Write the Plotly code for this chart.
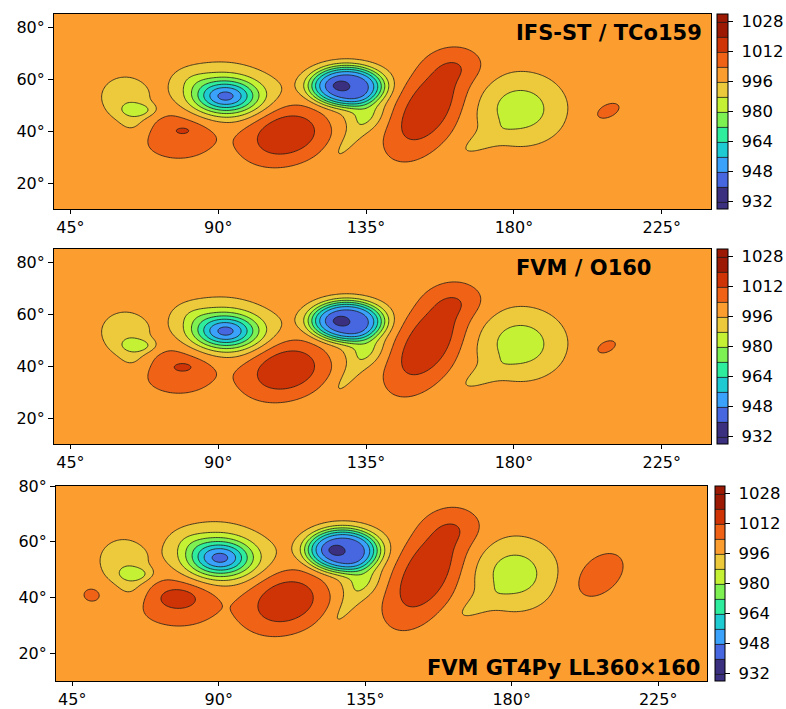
import numpy as np
import plotly.graph_objects as go

# ---------------- data -----------------
LEVEL_START, LEVEL_END, LEVEL_STEP = 932, 1028, 8
BAND_COLORS = ["#3b2f80", "#4667e0", "#3aa2fb", "#1ecbd3", "#2eed9c", "#7ef152",
               "#c4f133", "#edca3b", "#fc9d30", "#f06317", "#cf3406", "#9c1a04"]
CBAR_TICKS = [932, 948, 964, 980, 996, 1012, 1028]
LON_TICKS = [45, 90, 135, 180, 225]
LAT_TICKS = [20, 40, 60, 80]
PANEL_TITLES = ["IFS-ST / TCo159", "FVM / O160", "FVM GT4Py LL360×160"]
LAT_TOPS = [85, 85, 80]
BASE_PRESSURE = 1000.0

# pressure features
# (centre lon/lat, anomaly hPa, widths deg, tilt deg, profile exponent)
#          L1a   L1b   L1c  H1  H1c   L2    L2b  L2w  H2   L3   L3c  L3w  L3se  L3t  H3    H3ne  L4   L4t  H4
IFS_LON = [61.5, 64.5, 66, 78, 79.6, 92.3, 82, 90, 111, 129, 127, 130, 134.5, 130, 153.5, 163, 182, 170, 208.5]
IFS_LAT = [53, 44, 48, 39, 40.3, 53.2, 60, 57, 39, 57.3, 57.5, 55, 47, 37, 49, 65, 48.5, 36, 47.7]
IFS_AMP = [-9, -6, -12, 10, 4, -49, -4, -7, 19, -52, -6, -6, -10, -6, 19, 6, -17, -5, 5.5]
IFS_SX = [5.5, 3.5, 3.5, 8.5, 2.5, 7, 4, 9.5, 10, 9.5, 2, 13, 4, 9, 14, 6, 8.5, 7, 5]
IFS_SY = [6, 5, 1.8, 7, 1.3, 4.7, 3, 7.5, 7.5, 6.5, 1.5, 9, 4.5, 2.2, 7.2, 4.5, 8.5, 2.5, 3]
IFS_ROT = [0, 0, 0, 0, 0, 0, 0, 0, 30, 0, 0, 0, 0, 58, 65, 0, 0, 35, 35]
IFS_POW = [1, 1, 1, 1, 1, 1, 1, 1, 1.2, 2, 1, 1, 1, 1, 1.2, 1, 1, 1, 1]

O160_LON = [61.5, 64.5, 66, 78, 79.7, 92.3, 82, 90, 111, 129, 127, 130, 134.5, 130, 153.5, 163, 182, 170, 208]
O160_LAT = [53, 44, 47.8, 39, 39.7, 53.2, 60, 57, 39, 57.3, 57.4, 55, 47, 37, 49, 65, 48.5, 36, 47.3]
O160_AMP = [-9, -6, -12, 10, 4.5, -49, -4, -7, 19, -52, -6, -6, -10, -6, 19, 6, -17, -5, 5.2]
O160_SX = [5.5, 3.5, 3.5, 8.5, 2.8, 7, 4, 9.5, 10, 9.5, 2, 13, 4, 9, 14, 6, 8.5, 7, 4.6]
O160_SY = [6, 5, 1.8, 7, 1.5, 4.7, 3, 7.5, 7.5, 6.5, 1.5, 9, 4.5, 2.2, 7.2, 4.5, 8.5, 2.5, 2.8]
O160_ROT = [0, 0, 0, 0, 0, 0, 0, 0, 30, 0, 0, 0, 0, 58, 65, 0, 0, 35, 35]
O160_POW = [1, 1, 1, 1, 1, 1, 1, 1, 1.2, 2, 1, 1, 1, 1, 1.2, 1, 1, 1, 1]

#         L1a   L1b   L1c   Hw  H1  H1c  L2    L2b L2w H2    L3   L3c    L3w L3se   L3t    H3     H3ne L4   L4t  H4
LL_LON = [60.5, 63.5, 64.6, 51, 77, 78, 90.5, 81, 88, 111, 128, 125.7, 129, 133.5, 129.5, 153.5, 163, 181, 169, 207]
LL_LAT = [53, 44, 48.3, 41, 39, 40, 54, 60, 57.5, 39, 57, 57, 55, 47, 37.5, 49, 65, 48.5, 37, 48]
LL_AMP = [-9, -6, -12, 5.5, 10, 7, -49, -4, -7, 18.5, -52, -6, -6, -10, -6, 19, 6, -17, -5, 9]
LL_SX = [5.5, 3.5, 3.5, 3, 9.5, 5, 7, 4, 9.5, 10, 9.5, 2, 13, 4, 9, 14, 6, 8, 7, 7]
LL_SY = [6, 5, 1.8, 2.8, 6.8, 3, 4.7, 3, 7.5, 7.5, 6.5, 1.5, 9, 4.5, 2.2, 7.2, 4.5, 8, 2.5, 4.5]
LL_ROT = [0, 0, 0, 0, -5, 0, 0, 0, 0, 30, 0, 0, 0, 0, 58, 65, 0, 0, 35, 50]
LL_POW = [1, 1, 1, 1, 1, 1, 1, 1, 1, 1.2, 2, 1, 1, 1, 1, 1.2, 1, 1, 1, 1]

PANEL_FEATURES = [
    (IFS_LON, IFS_LAT, IFS_AMP, IFS_SX, IFS_SY, IFS_ROT, IFS_POW),
    (O160_LON, O160_LAT, O160_AMP, O160_SX, O160_SY, O160_ROT, O160_POW),
    (LL_LON, LL_LAT, LL_AMP, LL_SX, LL_SY, LL_ROT, LL_POW),
]


def build_field(lon, lat, flon, flat, famp, fsx, fsy, frot, fpow):
    LON, LAT = np.meshgrid(lon, lat)
    z = np.full(LON.shape, BASE_PRESSURE)
    for x0, y0, a, sx, sy, rot, p in zip(flon, flat, famp, fsx, fsy, frot, fpow):
        t = np.deg2rad(rot)
        dx, dy = LON - x0, LAT - y0
        u = dx * np.cos(t) + dy * np.sin(t)
        v = -dx * np.sin(t) + dy * np.cos(t)
        q = (u / sx) ** 2 + (v / sy) ** 2
        z += a * np.exp(-0.5 * q ** p)
    return np.round(z, 2)


# discrete colour scale matching plotly's contour colour mapping
n13 = len(BAND_COLORS) + 1
colorscale = []
for k, c in enumerate(BAND_COLORS):
    lo = 0.0 if k == 0 else (k + 0.5) / n13
    hi = 1.0 if k == len(BAND_COLORS) - 1 else (k + 1.5) / n13
    colorscale.append([lo, c])
    colorscale.append([hi, c])

# ---------------- layout geometry (pixels) -----------------
W, H = 786, 709
P_LEFT = [54, 54, 56]
P_RIGHT = [711, 711, 707]
P_TOP = [14, 249, 486]
P_BOT = [209, 444, 681]
CB_LEFT = [717, 717, 715]
CB_W = [11, 11, 10]

FONT = "DejaVu Sans"
TICK_SIZE = 16
NBSP = "\u00a0"
fig = go.Figure()
lon = np.arange(40, 240.01, 0.5)

for i in range(3):
    lat = np.arange(10, LAT_TOPS[i] + 0.01, 0.5)
    z = build_field(lon, lat, *PANEL_FEATURES[i])
    sfx = "" if i == 0 else str(i + 1)
    top, bot = P_TOP[i], P_BOT[i]
    fig.add_trace(go.Contour(
        x=lon, y=lat, z=z,
        xaxis="x" + sfx, yaxis="y" + sfx,
        colorscale=colorscale,
        autocontour=False,
        contours=dict(start=LEVEL_START, end=LEVEL_END, size=LEVEL_STEP, coloring="fill", showlines=True),
        line=dict(color="#1a1a1a", width=0.8, smoothing=1),
        hoverinfo="skip",
        colorbar=dict(
            x=CB_LEFT[i] / W, xanchor="left", xref="paper",
            y=1 - (top + bot) / 2 / H, yanchor="middle",
            len=(bot - top) / H, lenmode="fraction",
            thickness=CB_W[i], thicknessmode="pixels",
            xpad=0, ypad=0,
            outlinewidth=1, outlinecolor="black",
            tickvals=CBAR_TICKS, ticktext=[NBSP + str(v) for v in CBAR_TICKS],
            ticks="outside", ticklen=5, tickcolor="black",
            tickfont=dict(family=FONT, size=16.5, color="black"),
        ),
    ))
    ax = dict(domain=[P_LEFT[i] / W, P_RIGHT[i] / W], range=[40, 240],
              tickmode="array", tickvals=LON_TICKS, ticktext=[f"{v}°" for v in LON_TICKS],
              ticks="outside", ticklen=4, tickcolor="black", automargin=False,
              showline=True, mirror=True, linecolor="black", linewidth=1, showgrid=False,
              zeroline=False, tickfont=dict(family=FONT, size=TICK_SIZE, color="black"),
              anchor="y" + sfx)
    ay = dict(domain=[1 - bot / H, 1 - top / H], range=[10, LAT_TOPS[i]],
              tickmode="array", tickvals=LAT_TICKS, ticktext=[f"{v}°" for v in LAT_TICKS],
              ticks="outside", ticklen=5, tickcolor="black", automargin=False,
              showline=True, mirror=True, linecolor="black", linewidth=1, showgrid=False,
              zeroline=False, tickfont=dict(family=FONT, size=TICK_SIZE, color="black"),
              anchor="x" + sfx)
    fig.layout["xaxis" + sfx] = ax
    fig.layout["yaxis" + sfx] = ay

TITLE_X = [514, 514, 702]
TITLE_ANCHOR = ["left", "left", "right"]
TITLE_Y = [33, 268, 668]
for i in range(3):
    fig.add_annotation(text="<b>" + PANEL_TITLES[i] + "</b>", xref="paper", yref="paper",
                       x=TITLE_X[i] / W, y=1 - TITLE_Y[i] / H, xanchor=TITLE_ANCHOR[i], yanchor="middle",
                       showarrow=False, font=dict(family=FONT, size=21, color="black"))

fig.update_layout(template="none", width=W, height=H, margin=dict(l=0, r=0, t=0, b=0, pad=0),
                  paper_bgcolor="white", plot_bgcolor="white", showlegend=False)
fig.write_html("out.html")
